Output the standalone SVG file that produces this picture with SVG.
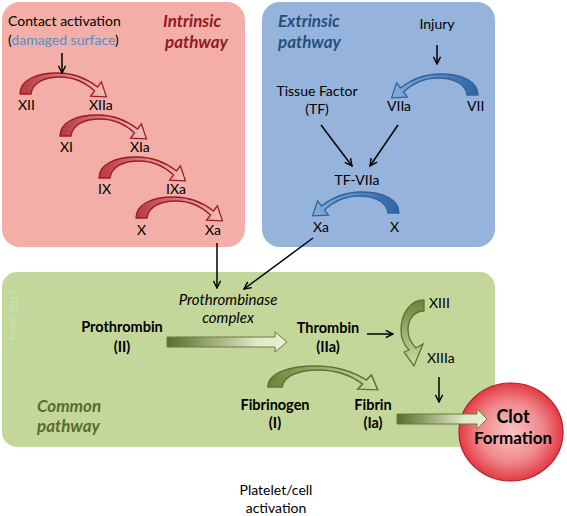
<svg xmlns="http://www.w3.org/2000/svg" width="567" height="516" viewBox="0 0 567 516">
<style>
text{font-family:Lato,"Liberation Sans",sans-serif;fill:#000}
.r{font-size:14px}
.b{font-size:14.5px;font-weight:bold}
.t{font-size:17px;font-weight:bold;font-style:italic}
.it{font-size:15px;font-style:italic}
.c{text-anchor:middle}
.line{stroke:#000;stroke-width:1.5;fill:none}
.red{fill:url(#gRed);stroke:#9c1c24;stroke-width:1.3}
.blue{fill:url(#gBlue);stroke:#2f64a0;stroke-width:1.3}
.grn{fill:url(#gGrn);stroke:#5f7330;stroke-width:1.3}
</style>
<defs>
<linearGradient id="gRed" x1="0" y1="0" x2="1" y2="0"><stop offset="0" stop-color="#b8383f"/><stop offset="1" stop-color="#f6c0bc"/></linearGradient>
<linearGradient id="gBlue" x1="0" y1="0" x2="1" y2="0"><stop offset="0" stop-color="#2e62a0"/><stop offset="1" stop-color="#86aedb"/></linearGradient>
<linearGradient id="gGrn" x1="0" y1="0" x2="1" y2="0"><stop offset="0" stop-color="#6f8238"/><stop offset="1" stop-color="#cddcaa"/></linearGradient>
<linearGradient id="gGrnV" x1="0" y1="0" x2="0" y2="1"><stop offset="0" stop-color="#6f8238"/><stop offset="1" stop-color="#cddcaa"/></linearGradient>
<linearGradient id="gBig" x1="0" y1="0" x2="1" y2="0"><stop offset="0" stop-color="#5a6d2a"/><stop offset="0.75" stop-color="#dfe9c8"/><stop offset="1" stop-color="#e8f0d6"/></linearGradient>
<radialGradient id="gClot" cx="0.5" cy="0.5" r="0.5"><stop offset="0" stop-color="#f9c4c4"/><stop offset="0.6" stop-color="#f08a8e"/><stop offset="1" stop-color="#e43a44"/></radialGradient>
<path id="carc" d="M0,0 C0,-14 16,-21 38,-21 C54,-21 66,-16 77.5,-7 L81.4,-12.2 L86.4,2.8 L70.6,2.2 L74.5,-3 C66,-11 55,-17 40,-17 C24,-17 12,-11 11,0 Z"/>
<marker id="ah" viewBox="0 0 10 10" refX="9" refY="5" markerWidth="9" markerHeight="9" orient="auto" markerUnits="userSpaceOnUse"><path d="M1,1 L9,5 L1,9" fill="none" stroke="#000" stroke-width="1.6"/></marker>
</defs>

<g id="intrinsic-box"><rect x="2" y="2" width="243" height="245" rx="18" fill="#f3aea8"/></g>
<g id="extrinsic-box"><rect x="262" y="2" width="233" height="245" rx="18" fill="#96b4db"/></g>
<g id="common-box"><rect x="2" y="272" width="493" height="175" rx="15" fill="#c3d79b"/></g>

<g id="watermark"><text x="0" y="0" transform="translate(17,340) rotate(-90)" style="font-size:10px;fill:#d2e0b8">MRM 2017</text></g>

<g id="intrinsic-title"><text class="t" x="163" y="27" style="fill:#941a20">Intrinsic</text><text class="t" x="165" y="48" style="fill:#941a20">pathway</text></g>
<g id="contact"><text class="r" x="8" y="26">Contact activation</text><text class="r" x="8" y="45">(<tspan style="fill:#4f8fd0">damaged surface</tspan>)</text></g>

<g id="step-XII"><use href="#carc" x="20" y="94" class="red"/><text class="r" x="18" y="110">XII</text><text class="r" x="89" y="110">XIIa</text></g>
<g id="step-XI"><use href="#carc" x="60" y="136" class="red"/><text class="r" x="60" y="152">XI</text><text class="r" x="130" y="152">XIa</text></g>
<g id="step-IX"><use href="#carc" x="99" y="178" class="red"/><text class="r" x="98" y="194">IX</text><text class="r" x="166" y="194">IXa</text></g>
<g id="step-X"><use href="#carc" x="136" y="218" class="red"/><text class="r" x="137" y="235">X</text><text class="r" x="205" y="235">Xa</text></g>

<g id="extrinsic-title"><text class="t" x="278" y="27" style="fill:#24507f">Extrinsic</text><text class="t" x="278" y="48" style="fill:#24507f">pathway</text></g>
<g id="injury"><text class="r c" x="437" y="29">Injury</text></g>
<g id="tf"><text class="r c" x="317" y="96">Tissue Factor</text><text class="r c" x="317" y="114">(TF)</text></g>
<g id="step-VII"><use href="#carc" transform="translate(478,95) scale(-1,1)" class="blue"/><text class="r" x="387" y="111">VIIa</text><text class="r" x="467" y="111">VII</text></g>
<g id="tf-viia"><text class="r c" x="357" y="185">TF-VIIa</text></g>
<g id="step-Xe"><use href="#carc" transform="translate(399,213) scale(-1,1)" class="blue"/><text class="r" x="313" y="232">Xa</text><text class="r" x="390" y="232">X</text></g>

<g id="prothrombinase"><text class="it c" x="228" y="305">Prothrombinase</text><text class="it c" x="228" y="323">complex</text></g>
<g id="prothrombin"><text class="b c" x="122" y="332">Prothrombin</text><text class="b c" x="122" y="352">(II)</text></g>
<g id="thrombin"><text class="b c" x="328" y="333">Thrombin</text><text class="b c" x="328" y="352">(IIa)</text></g>
<g id="step-XIII"><path class="grn" style="fill:url(#gGrnV)" d="M424,300 C410,300 401,314 401,330 C401,340 405,346 409,350 L404,352 L414,366 L423,344 L416,348 C411,343 408,337 408,330 C408,318 415,311 424,311 Z"/><text class="r" x="429" y="308">XIII</text><text class="r" x="427" y="363">XIIIa</text></g>
<g id="step-fibrin"><use href="#carc" transform="translate(268,387) scale(1.27,1)" class="grn"/><text class="b c" x="275" y="410">Fibrinogen</text><text class="b c" x="275" y="428">(I)</text><text class="b c" x="373" y="410">Fibrin</text><text class="b c" x="373" y="428">(Ia)</text></g>
<g id="common-title"><text class="t" x="37" y="412" style="fill:#5b6b28">Common</text><text class="t" x="37" y="432" style="fill:#5b6b28">pathway</text></g>

<g id="clot"><ellipse cx="511" cy="432" rx="52" ry="49" fill="url(#gClot)" stroke="#b01e2a" stroke-width="1.2"/><text class="c" x="513" y="423" style="font-size:18px;font-weight:bold">Clot</text><text class="c" x="513" y="444" style="font-size:17px;font-weight:bold">Formation</text></g>

<g id="platelet"><text class="r c" x="276" y="495">Platelet/cell</text><text class="r c" x="276" y="513">activation</text></g>

<g id="connectors">
<line class="line" x1="62" y1="53" x2="62" y2="73" marker-end="url(#ah)"/>
<line class="line" x1="437" y1="45" x2="437" y2="64" marker-end="url(#ah)"/>
<line class="line" x1="321" y1="125" x2="352" y2="166" marker-end="url(#ah)"/>
<line class="line" x1="398" y1="125" x2="370" y2="166" marker-end="url(#ah)"/>
<line class="line" x1="217" y1="243" x2="217" y2="288" marker-end="url(#ah)"/>
<line class="line" x1="313" y1="238" x2="244" y2="289" marker-end="url(#ah)"/>
<line class="line" x1="367" y1="334" x2="393" y2="334" marker-end="url(#ah)"/>
<line class="line" x1="439" y1="377" x2="439" y2="402" marker-end="url(#ah)"/>
<path d="M167,337 H275 V332 L287,342 L275,352 V347 H167 Z" fill="url(#gBig)" stroke="#6a7d3a" stroke-width="1"/>
<path d="M397,414 H477 V409 L487,419 L477,429 V424 H397 Z" fill="url(#gBig)" stroke="#6a7d3a" stroke-width="1"/>
</g>
</svg>
